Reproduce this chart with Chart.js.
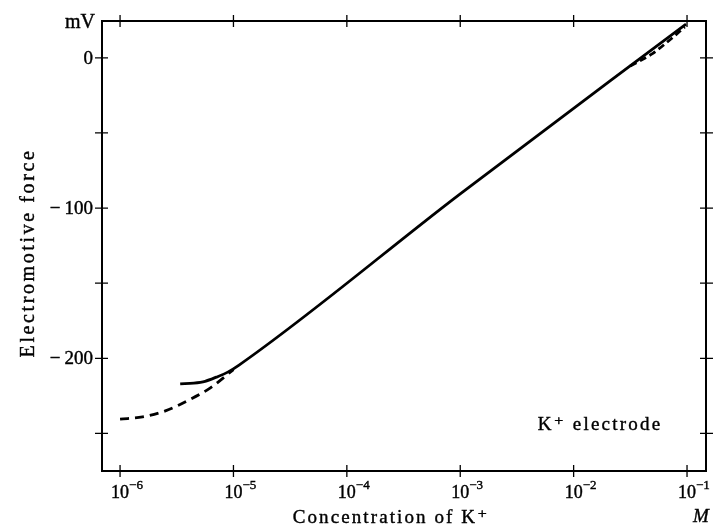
<!DOCTYPE html>
<html>
<head>
<meta charset="utf-8">
<script src="https://cdn.jsdelivr.net/npm/chart.js@4/dist/chart.umd.min.js"></script>
<style>
  html, body { margin: 0; padding: 0; background: #fff; }
</style>
</head>
<body>
<canvas id="chart" width="716" height="528"></canvas>
<script>
'use strict';

/* ---- data (concentration in M, emf in mV) ---- */
var DECADES      = [1e-6, 1e-5, 1e-4, 1e-3, 1e-2, 1e-1];
var DECADE_EXPS  = ['\u22126', '\u22125', '\u22124', '\u22123', '\u22122', '\u22121'];
var EMF_TICKS    = [0, -50, -100, -150, -200, -250];
var EMF_LABELS   = ['0', '', '\u2212100', '', '\u2212200', ''];

// measured curve (solid)
var solidConc = [3.39e-6, 4.47e-6, 5.62e-6, 7.08e-6, 8.91e-6, 1.12e-5, 1e-3, 0.098];
var solidEmf  = [-217, -216.5, -215.3, -212.5, -209.2, -204.5, -90.5, 22.5];

// dashed deviation at low concentration
var dashLowConc = [1e-6, 1.58e-6, 2.51e-6, 3.98e-6, 6.31e-6, 1e-5];
var dashLowEmf  = [-240.5, -239, -235, -228, -219.5, -207.5];

// dashed deviation at high concentration
var dashHighConc = [0.0316, 0.05, 0.0708, 0.0955];
var dashHighEmf  = [-5.5, 3, 12, 20.5];

var X_MIN = 6.93e-7, X_MAX = 0.147;
var Y_MIN = -275, Y_MAX = 24.5;
var FONT = '"Liberation Serif", "DejaVu Serif", serif';

function pts(xs, ys) {
  return xs.map(function (x, i) { return { x: x, y: ys[i] }; });
}

// slightly heavier text, like the printed figure
function inkText(ctx, s, x, y) {
  ctx.fillText(s, x, y);
  ctx.strokeText(s, x, y);
}

/* ---- frame, crossing ticks and typeset labels ---- */
var figurePlugin = {
  id: 'figure',
  afterDraw: function (chart) {
    var ctx = chart.ctx, a = chart.chartArea;
    var xs = chart.scales.x, ys = chart.scales.y;
    ctx.save();
    ctx.strokeStyle = '#000';
    ctx.fillStyle = '#000';
    ctx.lineWidth = 2;
    ctx.strokeRect(a.left, a.top, a.right - a.left, a.bottom - a.top);

    ctx.lineWidth = 1.3;
    ctx.beginPath();
    DECADES.forEach(function (v) {
      var px = xs.getPixelForValue(v);
      ctx.moveTo(px, a.bottom - 6); ctx.lineTo(px, a.bottom + 6);
      ctx.moveTo(px, a.top - 6);    ctx.lineTo(px, a.top + 6);
    });
    EMF_TICKS.forEach(function (v) {
      var py = ys.getPixelForValue(v);
      ctx.moveTo(a.left - 7, py);  ctx.lineTo(a.left + 6, py);
      ctx.moveTo(a.right - 6, py); ctx.lineTo(a.right + 7, py);
    });
    ctx.stroke();

    ctx.lineWidth = 0.4;

    // x tick labels 10^n
    ctx.textBaseline = 'alphabetic';
    ctx.textAlign = 'left';
    DECADES.forEach(function (v, i) {
      var px = xs.getPixelForValue(v);
      ctx.font = '18px ' + FONT;
      inkText(ctx, '10', px - 9, 498);
      ctx.font = '13px ' + FONT;
      inkText(ctx, DECADE_EXPS[i], px + 9, 489);
    });

    // y tick labels (minus sign set a little apart)
    ctx.font = '19px ' + FONT;
    ctx.textAlign = 'right';
    ctx.textBaseline = 'middle';
    EMF_TICKS.forEach(function (v, i) {
      var lab = EMF_LABELS[i];
      if (!lab) return;
      var py = ys.getPixelForValue(v) + 1;
      var xr = a.left - 9;
      if (lab.charAt(0) === '\u2212') {
        var num = lab.slice(1);
        inkText(ctx, num, xr, py);
        inkText(ctx, '\u2212', xr - ctx.measureText(num).width - 4, py);
      } else {
        inkText(ctx, lab, xr, py);
      }
    });
    ctx.font = '20px ' + FONT;
    inkText(ctx, 'mV', a.left - 7, a.top + 2);

    // titles
    ctx.textAlign = 'center';
    ctx.font = '19px ' + FONT;
    ctx.letterSpacing = '2.1px';
    inkText(ctx, 'Concentration of K\u207A', 391, 518);
    ctx.letterSpacing = '2.2px';
    inkText(ctx, 'K\u207A electrode', 600, 425);
    ctx.letterSpacing = '0px';
    ctx.font = 'italic 19px ' + FONT;
    inkText(ctx, 'M', 701, 517);

    ctx.font = '20px ' + FONT;
    ctx.letterSpacing = '2.6px';
    ctx.translate(29, 253);
    ctx.rotate(-Math.PI / 2);
    inkText(ctx, 'Electromotive force', 0, 0);
    ctx.restore();
  }
};

new Chart(document.getElementById('chart').getContext('2d'), {
  type: 'line',
  data: {
    datasets: [
      {
        label: 'measured',
        data: pts(solidConc, solidEmf),
        borderColor: '#000', borderWidth: 2.8,
        pointRadius: 0, fill: false,
        cubicInterpolationMode: 'monotone'
      },
      {
        label: 'low deviation',
        data: pts(dashLowConc, dashLowEmf),
        borderColor: '#000', borderWidth: 2.8, borderDash: [9, 6],
        pointRadius: 0, fill: false,
        cubicInterpolationMode: 'monotone'
      },
      {
        label: 'high deviation',
        data: pts(dashHighConc, dashHighEmf),
        borderColor: '#000', borderWidth: 2.8, borderDash: [7, 4],
        pointRadius: 0, fill: false,
        cubicInterpolationMode: 'monotone'
      }
    ]
  },
  options: {
    responsive: false,
    animation: false,
    devicePixelRatio: 1,
    layout: { padding: { top: 21, right: 10, left: 0, bottom: 0 } },
    plugins: { legend: { display: false }, tooltip: { enabled: false } },
    scales: {
      x: {
        type: 'logarithmic', min: X_MIN, max: X_MAX,
        afterBuildTicks: function (s) { s.ticks = DECADES.map(function (v) { return { value: v }; }); },
        ticks: { display: false },
        grid: { display: false },
        border: { display: false },
        afterFit: function (s) { s.height = 57; }
      },
      y: {
        type: 'linear', min: Y_MIN, max: Y_MAX,
        afterBuildTicks: function (s) { s.ticks = EMF_TICKS.map(function (v) { return { value: v }; }); },
        ticks: { display: false },
        grid: { display: false },
        border: { display: false },
        afterFit: function (s) { s.width = 102; }
      }
    }
  },
  plugins: [figurePlugin]
});
</script>
</body>
</html>
